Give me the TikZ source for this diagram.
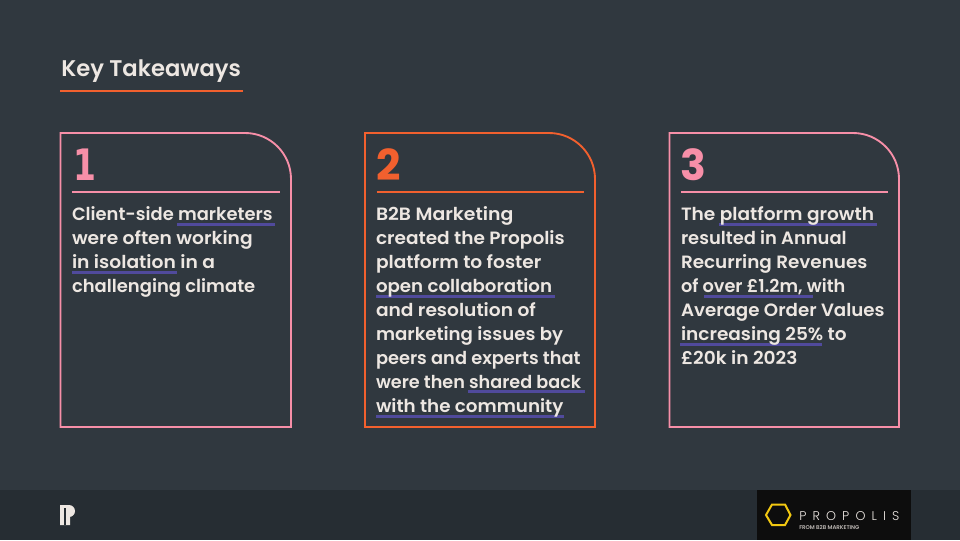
\documentclass[tikz,border=0pt]{standalone}
\usepackage{fontspec}
\usepackage{graphicx}
\setmainfont{Poppins SemiBold}
\newfontfamily\footdigit{DejaVu Sans Bold}
\newfontfamily\logofont{Poppins Light}
\newfontfamily\numfont{Poppins}
\newcommand{\sx}[2]{\scalebox{#1}[1]{#2}}
\definecolor{bgc}{HTML}{30383F}
\definecolor{bandc}{HTML}{262D33}
\definecolor{paper}{HTML}{EDE7E2}
\definecolor{pinkc}{HTML}{F78FA8}
\definecolor{orangec}{HTML}{F2602E}
\definecolor{ulc}{HTML}{504A9C}
\definecolor{goldc}{HTML}{F2C811}
\tikzset{x=0.75pt,y=-0.75pt,
 body/.style={anchor=base west,inner sep=0pt,outer sep=0pt,text=paper,font=\fontsize{13.35}{16}\selectfont},
 numeral/.style={anchor=base west,inner sep=0pt,outer sep=0pt,font=\fontsize{32}{36}\numfont\bfseries},
 card/.style={line width=1.4pt},
 cardrule/.style={line width=1.4pt},
 ul/.style={draw=ulc,line width=1.6pt}}
\newcommand{\cardshape}[3]{% left right colour
 \draw[card,draw=#3] (#1,133) -- (#2-46,133) arc[start angle=-90,end angle=0,radius=46] -- (#2,427) -- (#1,427) -- cycle;
 \draw[cardrule,draw=#3] (#1+11.5,192) -- (#2-11,192);}
\begin{document}
\begin{tikzpicture}
\useasboundingbox (0,0) rectangle (960,540);
\fill[bgc] (0,0) rectangle (960,540);
\fill[bandc] (0,490) rectangle (960,540);
\node[anchor=base west,inner sep=0pt,text=paper,font=\fontsize{17}{20}\selectfont] (title) at (61,76) {Key Takeaways};
\draw[orangec,line width=1.4pt] (60,91) -- (243,91);
\cardshape{60.5}{291}{pinkc}
\cardshape{365}{595}{orangec}
\cardshape{669.5}{899}{pinkc}
\node[numeral,text=pinkc,font=\fontsize{32.5}{36}\footdigit] (n1) at (73.5,180) {\sx{0.76}{1}};
\node[numeral,text=orangec] (n2) at (376,180) {2};
\node[numeral,text=pinkc] (n3) at (680,180) {3};
% card 1
\draw[ul] (177,224.5) -- (275,224.5);
\draw[ul] (72,272.5) -- (177,272.5);
\node[body] (a1) at (72,220) {\sx{1.005}{Client-side marketers}};
\node[body] (a2) at (72,244) {\sx{1.047}{were often working}};
\node[body] (a3) at (72,268) {\sx{1.05}{in isolation in a}};
\node[body] (a4) at (72,292) {\sx{1.01}{challenging climate}};
% card 2
\draw[ul] (376,296.5) -- (555,296.5);
\draw[ul] (468,391.5) -- (585,391.5);
\draw[ul] (376,416.5) -- (564,416.5);
\node[body] (b1) at (376,220) {\sx{1.06}{B2B Marketing}};
\node[body] (b2) at (376,244) {\sx{1.04}{created the Propolis}};
\node[body] (b3) at (376,268) {\sx{1.044}{platform to foster}};
\node[body] (b4) at (376,292) {\sx{1.023}{open collaboration}};
\node[body] (b5) at (376,316) {\sx{1.046}{and resolution of}};
\node[body] (b6) at (376,340) {\sx{1.022}{marketing issues by}};
\node[body] (b7) at (376,364) {peers and experts that};
\node[body] (b8) at (376,388) {\sx{0.99}{were then shared back}};
\node[body] (b9) at (376,412) {\sx{1.028}{with the community}};
% card 3
\draw[ul] (719,224.5) -- (877,224.5);
\draw[ul] (704,296.5) -- (813,296.5);
\draw[ul] (680,344.5) -- (822,344.5);
\node[body] (c1) at (681,220) {\sx{1.043}{The platform growth}};
\node[body] (c2) at (681,244) {\sx{1.005}{resulted in Annual}};
\node[body] (c3) at (681,268) {\sx{1.033}{Recurring Revenues}};
\node[body] (c4) at (681,292) {\sx{0.995}{of over £1.2m, with}};
\node[body] (c5) at (681,316) {\sx{1.025}{Average Order Values}};
\node[body] (c6) at (681,340) {\sx{1.04}{increasing 25\% to}};
\node[body] (c7) at (681,364) {\sx{1.045}{£20k in 2023}};
% P mark
\fill[paper] (60,505) -- (69,505) arc[start angle=-90,end angle=90,radius=6] -- (70,517) -- (70,525) -- (60,525) -- cycle;
\fill[bandc] (63.5,508) rectangle (65.5,525);
% logo
\fill[black!95] (757,490) rectangle (911,540);
\draw[goldc,line width=1.5pt,line join=miter] (766,515) -- (772,504.5) -- (785,504.5) -- (790.5,515) -- (785,525) -- (772,525) -- cycle;
\node[anchor=base west,inner sep=0pt,text=paper,font=\fontsize{9.5}{12}\logofont] (logo) at (799,520) {P\hspace{4.6pt}R\hspace{4.6pt}O\hspace{4.6pt}P\hspace{4.6pt}O\hspace{4.6pt}L\hspace{4.6pt}I\hspace{4.6pt}S};
\node[anchor=base west,inner sep=0pt,text=paper!80!black,font=\fontsize{4.1}{5}\selectfont] (logosub) at (799,529.5) {FROM B2B MARKETING};
\end{tikzpicture}
\end{document}
